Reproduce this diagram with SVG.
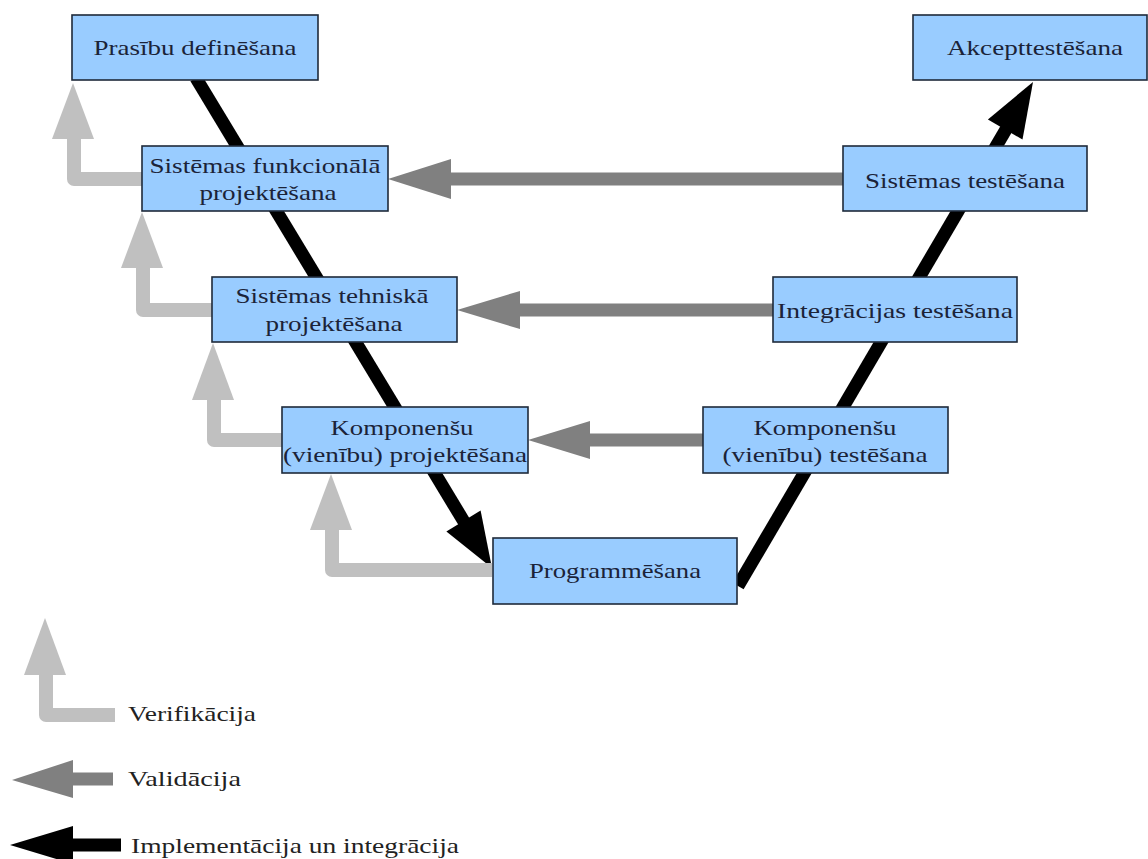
<svg xmlns="http://www.w3.org/2000/svg" width="1148" height="859" viewBox="0 0 1148 859">
<style>
.box{fill:#99ccff;stroke:#1e2a3a;stroke-width:1.6}
text{font-family:'Liberation Serif','Times New Roman','DejaVu Serif',serif;font-size:22px}
.t{fill:#1b2338;text-anchor:middle}
.lt{fill:#222}
.ver{fill:none;stroke:#c0c0c0;stroke-width:14;stroke-linejoin:round}
.verh{fill:#c0c0c0}
.val{stroke:#808080;stroke-width:13}
.valh{fill:#808080}
.imp{stroke:#000;stroke-width:13}
</style>
<rect width="1148" height="859" fill="#fff"/>
<g id="connectors">
  <line class="imp" x1="196" y1="78" x2="466" y2="525"/>
  <polygon points="492,568 480.6,510.6 446.4,531.4" fill="#000"/>
  <line class="imp" x1="738" y1="586" x2="1008" y2="126"/>
  <polygon points="1033,82 987.9,119.4 1022.5,139.6" fill="#000"/>
  <line class="val" x1="843" y1="179" x2="448" y2="179"/>
  <polygon class="valh" points="388,179 451,159 451,199"/>
  <line class="val" x1="773" y1="310" x2="517" y2="310"/>
  <polygon class="valh" points="457,310 520,291 520,329"/>
  <line class="val" x1="703" y1="440" x2="587" y2="440"/>
  <polygon class="valh" points="528,440 590,421 590,459"/>
  <path class="ver" d="M142,179 H74 V136"/>
  <polygon class="verh" points="73,83 52,139 94,139"/>
  <path class="ver" d="M212,310 H143 V266"/>
  <polygon class="verh" points="142,212 121,268 163,268"/>
  <path class="ver" d="M282,440 H214 V397"/>
  <polygon class="verh" points="213,343 192,400 234,400"/>
  <path class="ver" d="M492,570 H332 V527"/>
  <polygon class="verh" points="331,474 310,530 352,530"/>
</g>
<g id="n1"><rect class="box" x="72" y="15" width="246" height="65"/><text class="t" x="195" y="55" textLength="203" lengthAdjust="spacingAndGlyphs">Prasību definēšana</text></g>
<g id="n2"><rect class="box" x="142" y="146" width="246" height="65"/><text class="t" x="265" y="173" textLength="231" lengthAdjust="spacingAndGlyphs">Sistēmas funkcionālā</text><text class="t" x="268" y="200" textLength="137" lengthAdjust="spacingAndGlyphs">projektēšana</text></g>
<g id="n3"><rect class="box" x="212" y="277" width="245" height="65"/><text class="t" x="332" y="303" textLength="193" lengthAdjust="spacingAndGlyphs">Sistēmas tehniskā</text><text class="t" x="334" y="331" textLength="137" lengthAdjust="spacingAndGlyphs">projektēšana</text></g>
<g id="n4"><rect class="box" x="282" y="407" width="246" height="66"/><text class="t" x="402" y="435" textLength="143" lengthAdjust="spacingAndGlyphs">Komponenšu</text><text class="t" x="405" y="462" textLength="244" lengthAdjust="spacingAndGlyphs">(vienību) projektēšana</text></g>
<g id="n5"><rect class="box" x="493" y="538" width="244" height="66"/><text class="t" x="615" y="578" textLength="172" lengthAdjust="spacingAndGlyphs">Programmēšana</text></g>
<g id="n6"><rect class="box" x="703" y="407" width="245" height="66"/><text class="t" x="825" y="435" textLength="143" lengthAdjust="spacingAndGlyphs">Komponenšu</text><text class="t" x="825" y="462" textLength="205" lengthAdjust="spacingAndGlyphs">(vienību) testēšana</text></g>
<g id="n7"><rect class="box" x="773" y="277" width="244" height="65"/><text class="t" x="895" y="318" textLength="236" lengthAdjust="spacingAndGlyphs">Integrācijas testēšana</text></g>
<g id="n8"><rect class="box" x="843" y="146" width="244" height="65"/><text class="t" x="965" y="188" textLength="200" lengthAdjust="spacingAndGlyphs">Sistēmas testēšana</text></g>
<g id="n9"><rect class="box" x="913" y="15" width="234" height="65"/><text class="t" x="1035" y="55" textLength="176" lengthAdjust="spacingAndGlyphs">Akcepttestēšana</text></g>
<g id="legend">
  <path class="ver" d="M115,715 H46 V672"/>
  <polygon class="verh" points="45,618 24,675 66,675"/>
  <text class="lt" x="128" y="721" textLength="128" lengthAdjust="spacingAndGlyphs">Verifikācija</text>
  <line class="val" x1="113" y1="779" x2="70" y2="779"/>
  <polygon class="valh" points="12,780 73,760 73,798"/>
  <text class="lt" x="128" y="786" textLength="113" lengthAdjust="spacingAndGlyphs">Validācija</text>
  <line class="imp" x1="121" y1="845" x2="70" y2="845" stroke-width="14"/>
  <polygon points="10,845 73,826 73,864" fill="#000"/>
  <text class="lt" x="131" y="853" textLength="328" lengthAdjust="spacingAndGlyphs">Implementācija un integrācija</text>
</g>
</svg>
